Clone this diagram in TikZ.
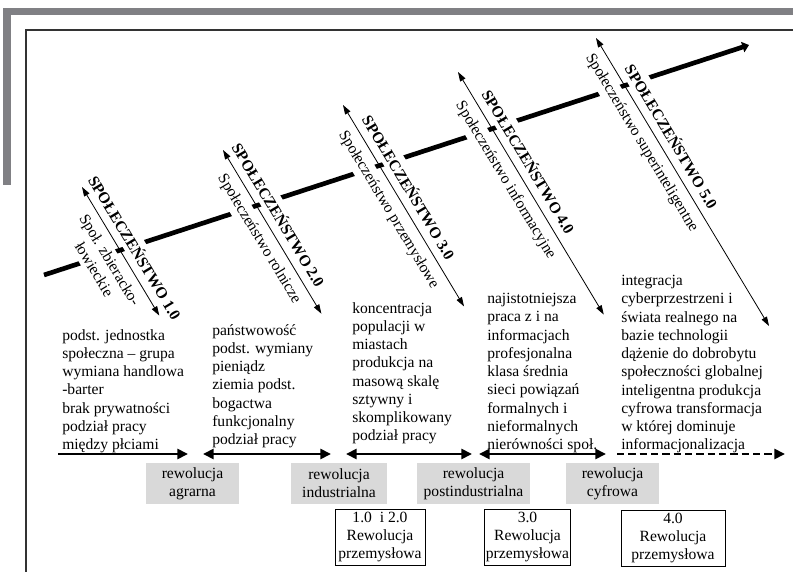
\documentclass[tikz,border=0pt]{standalone}
\usepackage{fontspec}
\setmainfont{Liberation Serif}
\usetikzlibrary{arrows.meta, calc}

\definecolor{framegray}{RGB}{128,128,132}
\definecolor{revgray}{RGB}{217,217,217}

\begin{document}
\begin{tikzpicture}[x=0.75pt, y=0.75pt,
    every node/.style={font=\fontsize{11.7}{13.7}\selectfont},
    bigtag/.style={rotate=-59, anchor=south west, fill=white, inner sep=3pt, outer sep=3pt,
        font=\fontsize{11.7}{13.7}\selectfont\bfseries},
    smalltag/.style={rotate=-59, anchor=north west, fill=white, inner sep=3pt, outer sep=3pt},
    stage/.style={{Triangle[length=7pt, width=4.5pt]}-{Triangle[length=7pt, width=4.5pt]}, line width=0.6pt},
    trait/.style={anchor=north west, align=left, inner sep=0pt},
    era/.style={line width=2pt, >={Triangle[length=8pt, width=7.5pt]}},
    revbox/.style={fill=revgray, align=center, minimum height=30.75pt, inner sep=1pt},
    ind/.style={draw, line width=0.75pt, align=center, minimum height=42pt, inner sep=1pt}
]
    \useasboundingbox (0,0) rectangle (793,572);

    % -------------------------
    % Frame
    % -------------------------
    \draw[framegray, line width=5.5pt] (793,560.5) -- (7,560.5) -- (7,387);
    \draw[black!80, line width=1pt] (793,542) -- (26,542) -- (26,0);

    % -------------------------
    % Main axis of development
    % -------------------------
    \draw[line width=3.5pt, -{Triangle[length=5pt, width=8pt]}] (44,297) -- (749,527);

    % -------------------------
    % Stages (top and bottom ends)
    % -------------------------
    \coordinate (top1) at (82,385);
    \coordinate (bot1) at ($(top1)+(-59:150)$);
    \coordinate (top2) at (223,422);
    \coordinate (bot2) at ($(top2)+(-59:191)$);
    \coordinate (top3) at (343,467);
    \coordinate (bot3) at ($(top3)+(-59:235)$);
    \coordinate (top4) at (458,500);
    \coordinate (bot4) at ($(top4)+(-59:283)$);
    \coordinate (top5) at (596,534);
    \coordinate (bot5) at ($(top5)+(-59:336)$);

    % society names
    \node[bigtag] (big1) at ($(top1)+(-59:-11)$) {SPOŁECZEŃSTWO 1.0};
    \node[bigtag] (big2) at ($(top2)+(-59:-6)$) {SPOŁECZEŃSTWO 2.0};
    \node[bigtag] (big3) at ($(top3)+(-59:14)$) {SPOŁECZEŃSTWO 3.0};
    \node[bigtag] (big4) at ($(top4)+(-59:23)$) {SPOŁECZEŃSTWO 4.0};
    \node[bigtag] (big5) at ($(top5)+(-59:33)$) {SPOŁECZEŃSTWO 5.0};

    \node[smalltag, anchor=north, align=center] (small1) at ($(top1)+(-59:77)$) {Społ. zbieracko-\\łowieckie};
    \node[smalltag] (small2) at ($(top2)+(-59:13)$) {Społeczeństwo rolnicze};
    \node[smalltag] (small3) at ($(top3)+(-59:15)$) {Społeczeństwo przemysłowe};
    \node[smalltag] (small4) at ($(top4)+(-59:19)$) {Społeczeństwo informacyjne};
    \node[smalltag] (small5) at ($(top5)+(-59:3)$) {Społeczeństwo superinteligentne};

    \draw[stage] (top1) -- (bot1);
    \draw[stage] (top2) -- (bot2);
    \draw[stage] (top3) -- (bot3);
    \draw[stage] (top4) -- (bot4);
    \draw[stage] (top5) -- (bot5);

    % -------------------------
    % Features of each society
    % -------------------------
    \node[trait] (feat1) at (62,243) {podst. jednostka\\społeczna -- grupa\\wymiana handlowa\\-barter\\brak prywatności\\podział pracy\\między płciami};
    \node[trait] (feat2) at (212,248) {państwowość\\podst. wymiany\\pieniądz\\ziemia podst.\\bogactwa\\funkcjonalny\\podział pracy};
    \node[trait] (feat3) at (352,270) {koncentracja\\populacji w\\miastach\\produkcja na\\masową skalę\\sztywny i\\skomplikowany\\podział pracy};
    \node[trait] (feat4) at (487,279) {najistotniejsza\\praca z i na\\informacjach\\profesjonalna\\klasa średnia\\sieci powiązań\\formalnych i\\nieformalnych\\nierówności społ.};
    \node[trait] (feat5) at (621,297) {integracja\\cyberprzestrzeni i\\świata realnego na\\bazie technologii\\dążenie do dobrobytu\\społeczności globalnej\\inteligentna produkcja\\cyfrowa transformacja\\w której dominuje\\informacjonalizacja};

    % -------------------------
    % Time line with revolutions
    % -------------------------
    \draw[era, ->] (58,118) -- (188,118);
    \draw[era, <->] (203,118) -- (331,118);
    \draw[era, <->] (346,118) -- (472,118);
    \draw[era, <->] (479,118) -- (606,118);
    \draw[era, ->, dash pattern=on 5.5pt off 3pt] (617,118) -- (785,118);

    \node[revbox, minimum width=69.75pt] (agr) at (192.5,88.5) {rewolucja\\agrarna};
    \node[revbox, minimum width=72pt] (indu) at (339,88.5) {rewolucja\\industrialna};
    \node[revbox, minimum width=84.75pt] (post) at (473.5,88.5) {rewolucja\\postindustrialna};
    \node[revbox, minimum width=69.75pt] (cyf) at (612.5,88.5) {rewolucja\\cyfrowa};

    \node[ind, minimum width=67.5pt] (rp12) at (380,35) {1.0~ i 2.0\\Rewolucja\\przemysłowa};
    \node[ind, minimum width=53.25pt] (rp3) at (527.5,35) {3.0\\Rewolucja\\przemysłowa};
    \node[ind, minimum width=78pt] (rp4) at (673,34) {4.0\\Rewolucja\\przemysłowa};

\end{tikzpicture}
\end{document}
